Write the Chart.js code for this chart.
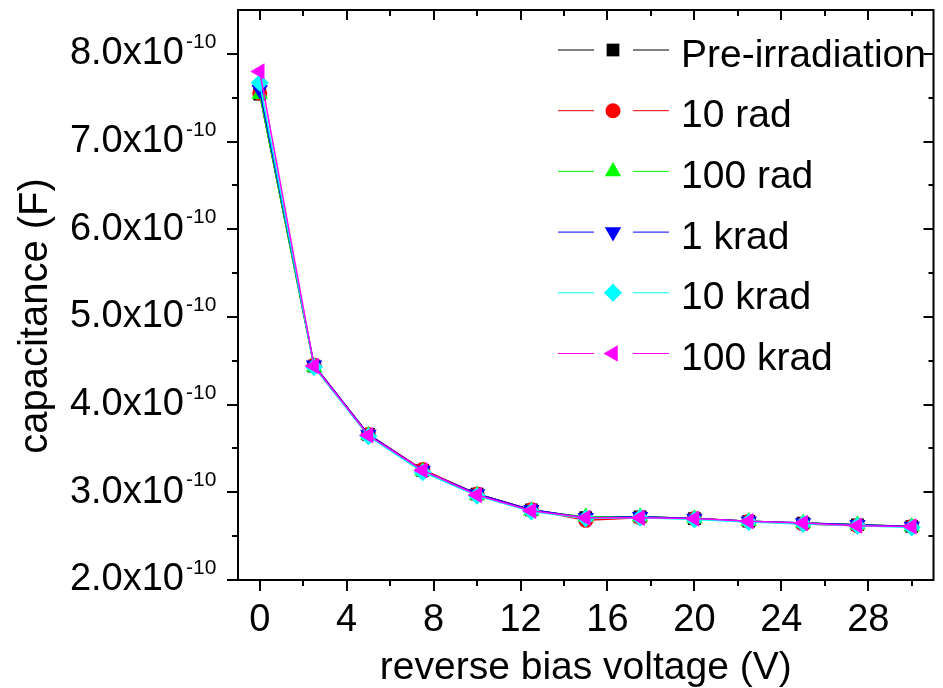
<!DOCTYPE html>
<html>
<head>
<meta charset="utf-8">
<script src="https://cdn.jsdelivr.net/npm/chart.js@4.4.0/dist/chart.umd.min.js"></script>
<style>
  html, body { margin: 0; padding: 0; background: #fff; }
</style>
</head>
<body>
<canvas id="chart" width="943" height="688"></canvas>
<script>
// reverse bias voltage (V)
const voltages = [0, 2.5, 5, 7.5, 10, 12.5, 15, 17.5, 20, 22.5, 25, 27.5, 30];

// capacitance (F), one list per dose
const preIrradiation = [7.54e-10, 4.44e-10, 3.66e-10, 3.25e-10, 2.98e-10, 2.80e-10, 2.71e-10, 2.72e-10, 2.70e-10, 2.67e-10, 2.65e-10, 2.63e-10, 2.61e-10];
const rad10 = [7.55e-10, 4.45e-10, 3.66e-10, 3.26e-10, 2.98e-10, 2.80e-10, 2.68e-10, 2.71e-10, 2.70e-10, 2.67e-10, 2.64e-10, 2.62e-10, 2.61e-10];
const rad100 = [7.54e-10, 4.43e-10, 3.65e-10, 3.24e-10, 2.97e-10, 2.79e-10, 2.72e-10, 2.72e-10, 2.70e-10, 2.67e-10, 2.65e-10, 2.63e-10, 2.61e-10];
const krad1 = [7.59e-10, 4.45e-10, 3.66e-10, 3.25e-10, 2.98e-10, 2.80e-10, 2.71e-10, 2.72e-10, 2.70e-10, 2.67e-10, 2.65e-10, 2.63e-10, 2.61e-10];
const krad10 = [7.67e-10, 4.43e-10, 3.64e-10, 3.23e-10, 2.96e-10, 2.78e-10, 2.70e-10, 2.71e-10, 2.69e-10, 2.66e-10, 2.64e-10, 2.62e-10, 2.60e-10];
const krad100 = [7.80e-10, 4.44e-10, 3.65e-10, 3.25e-10, 2.97e-10, 2.79e-10, 2.71e-10, 2.71e-10, 2.70e-10, 2.67e-10, 2.65e-10, 2.62e-10, 2.61e-10];

const seriesNames = ["Pre-irradiation", "10 rad", "100 rad", "1 krad", "10 krad", "100 krad"];
const seriesValues = [preIrradiation, rad10, rad100, krad1, krad10, krad100];
const seriesColors = ["#000000", "#ff0000", "#00ff00", "#0000ff", "#00ffff", "#ff00ff"];
const seriesStyles = ["rect", "circle", "triangle", "triangle", "rectRot", "triangle"];
const seriesRotations = [0, 0, 0, 180, 0, 270];
const seriesRadius = [9, 7.5, 9.5, 9.5, 9, 9.5];

// ticks
const xTickValues = [0, 4, 8, 12, 16, 20, 24, 28];
const xMinorTicks = [2, 6, 10, 14, 18, 22, 26, 30];
const yTickValues = [2e-10, 3e-10, 4e-10, 5e-10, 6e-10, 7e-10, 8e-10];
const yMinorTicks = [2.5e-10, 3.5e-10, 4.5e-10, 5.5e-10, 6.5e-10, 7.5e-10];

const FONT = "'Liberation Sans', Arial, sans-serif";
const Y_LABEL_PAD = 54;

Chart.defaults.font.family = FONT;
Chart.defaults.color = "#000";

const datasets = seriesNames.map((name, i) => ({
  label: name,
  data: voltages.map((v, j) => ({ x: v, y: seriesValues[i][j] })),
  borderColor: seriesColors[i],
  backgroundColor: seriesColors[i],
  borderWidth: 1.5,
  pointStyle: seriesStyles[i],
  pointRotation: seriesRotations[i],
  pointRadius: seriesRadius[i],
  pointBorderWidth: 0,
  pointBackgroundColor: seriesColors[i],
  tension: 0,
  order: seriesNames.length - 1 - i,
}));

// axis frame, inner/outer ticks, the x10^-10 superscripts and the y title
const framePlugin = {
  id: "frame",
  afterDraw(chart) {
    const { ctx, chartArea: a, scales } = chart;
    const x = scales.x, y = scales.y;
    ctx.save();
    ctx.strokeStyle = "#000";
    ctx.lineWidth = 2;
    ctx.beginPath();
    ctx.rect(a.left, a.top, a.right - a.left, a.bottom - a.top);
    ctx.stroke();

    ctx.beginPath();
    const seg = (x1, y1, x2, y2) => { ctx.moveTo(x1, y1); ctx.lineTo(x2, y2); };
    xTickValues.forEach((v) => {
      const px = Math.round(x.getPixelForValue(v));
      seg(px, a.bottom, px, a.bottom + 11);
      seg(px, a.top, px, a.top + 10);
    });
    xMinorTicks.forEach((v) => {
      const px = Math.round(x.getPixelForValue(v));
      seg(px, a.bottom, px, a.bottom + 6);
      seg(px, a.top, px, a.top + 6);
    });
    yTickValues.forEach((v) => {
      const py = Math.round(y.getPixelForValue(v));
      seg(a.left - 11, py, a.left, py);
      seg(a.right - 10, py, a.right, py);
    });
    yMinorTicks.forEach((v) => {
      const py = Math.round(y.getPixelForValue(v));
      seg(a.left - 6, py, a.left, py);
      seg(a.right - 5, py, a.right, py);
    });
    ctx.stroke();

    ctx.fillStyle = "#000";
    ctx.font = "21px " + FONT;
    ctx.textAlign = "left";
    ctx.textBaseline = "alphabetic";
    yTickValues.forEach((v) => {
      const py = y.getPixelForValue(v);
      ctx.fillText("-10", a.left - Y_LABEL_PAD + 2, py - 6);
    });

    // y axis title
    ctx.font = "40px " + FONT;
    ctx.textAlign = "center";
    ctx.textBaseline = "middle";
    ctx.translate(36, 316);
    ctx.rotate(-Math.PI / 2);
    ctx.fillText("capacitance (F)", 0, 0);
    ctx.restore();
  },
};

// legend: line - marker - line, then the name
const legendPlugin = {
  id: "lineLegend",
  afterDraw(chart) {
    const ctx = chart.ctx;
    ctx.save();
    chart.data.datasets.forEach((ds, i) => {
      const rowY = 50 + i * 60.7;
      ctx.strokeStyle = ds.borderColor;
      ctx.lineWidth = 1;
      ctx.beginPath();
      ctx.moveTo(558, rowY); ctx.lineTo(594, rowY);
      ctx.moveTo(633, rowY); ctx.lineTo(669, rowY);
      ctx.stroke();
      ctx.fillStyle = ds.pointBackgroundColor;
      Chart.helpers.drawPoint(ctx, {
        pointStyle: ds.pointStyle,
        rotation: ds.pointRotation,
        radius: ds.pointRadius,
        borderWidth: 0,
      }, 613, rowY);
      ctx.fillStyle = "#000";
      ctx.font = "39px " + FONT;
      ctx.textAlign = "left";
      ctx.textBaseline = "alphabetic";
      ctx.fillText(ds.label, 681, rowY + 16.5);
    });
    ctx.restore();
  },
};

new Chart(document.getElementById("chart"), {
  type: "line",
  data: { datasets: datasets },
  options: {
    responsive: false,
    animation: false,
    devicePixelRatio: 1,
    layout: { padding: { top: 10, right: -2, left: 0, bottom: 0 } },
    plugins: { legend: { display: false }, tooltip: { enabled: false } },
    scales: {
      x: {
        type: "linear",
        min: -1,
        max: 31,
        grid: { display: false, drawTicks: false },
        border: { display: false },
        afterBuildTicks: (s) => { s.ticks = xTickValues.map((v) => ({ value: v })); },
        afterFit: (s) => { s.height = 108; s.paddingLeft = 0; s.paddingRight = 0; },
        ticks: {
          font: { size: 38 },
          padding: 18,
          maxRotation: 0,
          callback: (v) => String(v),
        },
        title: {
          display: true,
          text: "reverse bias voltage (V)",
          font: { size: 39, lineHeight: 1.0 },
          padding: { top: 0, bottom: 0 },
        },
      },
      y: {
        type: "linear",
        min: 2e-10,
        max: 8.5e-10,
        grid: { display: false, drawTicks: false },
        border: { display: false },
        afterBuildTicks: (s) => { s.ticks = yTickValues.map((v) => ({ value: v })); },
        afterFit: (s) => { s.width = 238; s.paddingTop = 0; s.paddingBottom = 0; },
        ticks: {
          font: { size: 38 },
          padding: Y_LABEL_PAD,
          callback: (v) => (v * 1e10).toFixed(1) + "x10",
        },
        title: { display: false },
      },
    },
  },
  plugins: [framePlugin, legendPlugin],
});
</script>
</body>
</html>
